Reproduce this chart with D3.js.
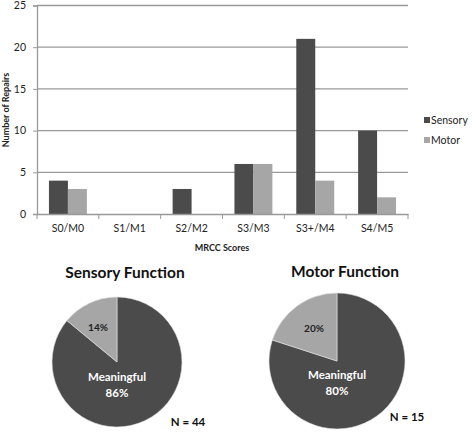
<!DOCTYPE html>
<html><head><meta charset="utf-8">
<script src="https://cdn.jsdelivr.net/npm/d3@7"></script>
<style>body{margin:0;background:#fff}svg{display:block}text{font-family:Lato,"Open Sans","DejaVu Sans",sans-serif}</style>
</head><body>
<svg id="c" width="473" height="432"></svg>
<script>
const categories = ["S0/M0","S1/M1","S2/M2","S3/M3","S3+/M4","S4/M5"];
const sensory = [4,0,3,6,21,10];
const motor = [3,0,0,6,4,2];
const seriesNames = ["Sensory","Motor"];
const yTicks = [0,5,10,15,20,25];
const pieSensory = [86,14];
const pieMotor = [80,20];
const pieLabels = ["Meaningful",""];

const svg = d3.select("#c");
const dark = "#4b4b4b", light = "#a6a6a6";
const x = d3.scaleBand().domain(categories).range([37,408]).paddingInner(0).paddingOuter(0);
const x1 = d3.scaleBand().domain(seriesNames).range([0,x.bandwidth()]).paddingInner(0).paddingOuter(0.63);
const y = d3.scaleLinear().domain([0,25]).range([214,5.5]);

// gridlines
svg.append("g").selectAll("line").data(yTicks.slice(1)).join("line")
  .attr("x1",37).attr("x2",408).attr("y1",d=>y(d)).attr("y2",d=>y(d))
  .attr("stroke","#999").attr("stroke-width",1.3);

// bars
const data = categories.map((c,i)=>({c, vals:[sensory[i],motor[i]]}));
const g = svg.append("g");
g.selectAll("g").data(data).join("g").attr("transform",d=>`translate(${x(d.c)},0)`)
  .selectAll("rect").data(d=>d.vals.map((v,j)=>({s:seriesNames[j],v}))).join("rect")
  .attr("x",d=>x1(d.s)).attr("width",x1.bandwidth())
  .attr("y",d=>y(d.v)).attr("height",d=>y(0)-y(d.v))
  .attr("fill",d=>d.s==="Sensory"?dark:light);

// axes
const ya = svg.append("g").attr("transform","translate(37,0)")
  .call(d3.axisLeft(y).tickValues(yTicks).tickSize(4).tickPadding(7));
const xa = svg.append("g").attr("transform","translate(0,214)")
  .call(d3.axisBottom(x).tickSize(0).tickPadding(11));
[ya,xa].forEach(a=>{a.select(".domain").attr("stroke","#999").attr("stroke-width",1.3);
  a.selectAll("line").attr("stroke","#999");
  a.selectAll("text").attr("font-size",10.5).attr("fill","#222");});
// category boundary ticks
svg.append("g").selectAll("line").data(categories.concat(["end"])).join("line")
  .attr("x1",(d,i)=>37+i*x.bandwidth()).attr("x2",(d,i)=>37+i*x.bandwidth())
  .attr("y1",214).attr("y2",219).attr("stroke","#999");

svg.append("text").attr("x",222).attr("y",251).attr("text-anchor","middle")
  .attr("font-size",9).attr("font-weight","bold").attr("fill","#222").text("MRCC Scores");
svg.append("text").attr("transform","translate(9,110) rotate(-90)").attr("text-anchor","middle")
  .attr("font-size",9).attr("font-weight","bold").attr("fill","#222").text("Number of Repairs");

// legend
const leg = svg.append("g");
seriesNames.forEach((s,i)=>{
  leg.append("rect").attr("x",424).attr("y",117+i*20).attr("width",6).attr("height",6).attr("fill",i?light:dark);
  leg.append("text").attr("x",431).attr("y",123.5+i*20).attr("font-size",10.5).attr("fill","#222").text(s);
});

// pies
function drawPie(vals, cx, cy, r, title, ty, n, nx, ny, smallPos, bigPos){
  const arcs = d3.pie().sort(null)(vals);
  const arc = d3.arc().innerRadius(0).outerRadius(r);
  const pg = svg.append("g").attr("transform",`translate(${cx},${cy})`);
  pg.selectAll("path").data(arcs).join("path").attr("d",arc)
    .attr("fill",(d,i)=>i?light:dark).attr("stroke","#e0e0e0").attr("stroke-width",0.6);
  svg.append("text").attr("x",cx+8).attr("y",ty).attr("text-anchor","middle")
    .attr("font-size",15.5).attr("font-weight","bold").attr("fill","#111").text(title);
  svg.append("text").attr("x",cx+smallPos[0]).attr("y",cy+smallPos[1]).attr("text-anchor","middle")
    .attr("font-size",10).attr("font-weight","bold").attr("fill","#222").text(vals[1]+"%");
  svg.append("text").attr("x",cx+bigPos[0]).attr("y",cy+bigPos[1]).attr("text-anchor","middle")
    .attr("font-size",11.5).attr("font-weight","bold").attr("fill","#fff").text(pieLabels[0]);
  svg.append("text").attr("x",cx+bigPos[0]).attr("y",cy+bigPos[1]+16).attr("text-anchor","middle")
    .attr("font-size",11.5).attr("font-weight","bold").attr("fill","#fff").text(vals[0]+"%");
  svg.append("text").attr("x",nx).attr("y",ny).attr("text-anchor","middle")
    .attr("font-size",11.5).attr("font-weight","bold").attr("fill","#111").text("N = "+n);
}
drawPie(pieSensory,117,362,65,"Sensory Function",278,44,188,426,[-19,-31],[0,19]);
drawPie(pieMotor,337,361,68,"Motor Function",277,15,407,421,[-23,-29],[0,18]);
</script>
</body></html>
